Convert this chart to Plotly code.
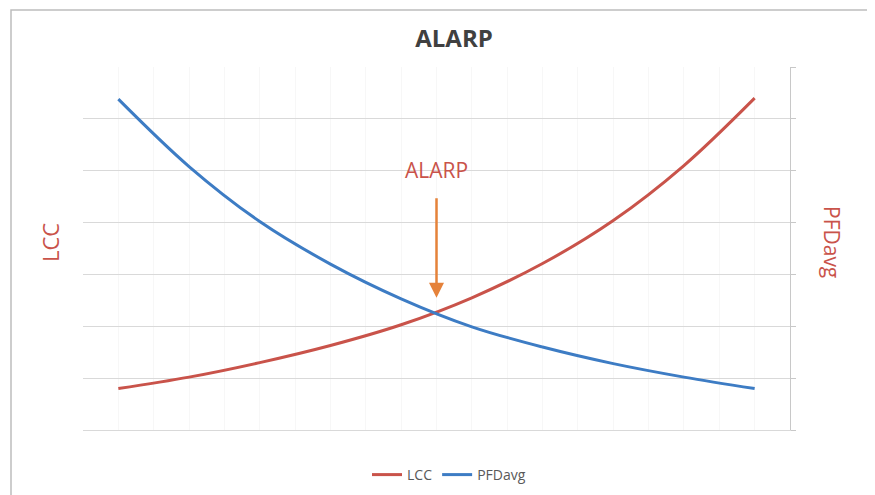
import plotly.graph_objects as go

# ---- data ----
points = [0, 1, 2, 3, 4, 5, 6, 7, 8, 9]
lcc = [0.80, 1.02, 1.30, 1.63, 2.03, 2.55, 3.21, 4.04, 5.10, 6.40]
pfdavg = [6.38, 5.08, 4.02, 3.20, 2.53, 1.99, 1.60, 1.28, 1.02, 0.80]
alarp_x = 4.5
alarp_tip = 2.55
alarp_tail = 4.50
alarp_label_y = 5.02

RED = "#c9534a"
BLUE = "#3d7cc4"
ORANGE = "#e5823a"
GRID = "#d9d9d9"
FONT = "Open Sans"

OFF = 8  # page body margin
W, H = 875 - OFF, 495 - OFF
# plot area in page pixels
L, R, T, B = 83, 790, 67, 430
pw, ph = R - L, B - T


def px(x):
    return (x - L) / pw


def py(y):
    return (B - y) / ph


fig = go.Figure()
fig.add_trace(go.Scatter(x=points, y=lcc, mode="lines", name="LCC",
                         line=dict(color=RED, width=3, shape="spline", smoothing=1.0)))
fig.add_trace(go.Scatter(x=points, y=pfdavg, mode="lines", name="PFDavg",
                         line=dict(color=BLUE, width=3, shape="spline", smoothing=1.0),
                         yaxis="y2"))

fig.update_layout(
    width=W, height=H,
    margin=dict(l=L - OFF, r=W - (R - OFF), t=T - OFF, b=H - (B - OFF)),
    paper_bgcolor="white", plot_bgcolor="white",
    font=dict(family=FONT, color="#595959"),
    title=dict(text="<b>ALARP</b>", x=px(454), xref="paper", xanchor="center",
               y=1 - (39 - OFF) / H, yanchor="middle",
               font=dict(family=FONT, size=24, color="#404040")),
    xaxis=dict(range=[-0.5, 9.5], tick0=0, dtick=0.5, showticklabels=False,
               showgrid=True, gridcolor="#f7f7f7", gridwidth=1,
               zeroline=False, showline=True, linecolor=GRID, ticks=""),
    yaxis=dict(range=[0, 7], dtick=1, showticklabels=False, showgrid=True,
               gridcolor=GRID, gridwidth=1, zeroline=False, showline=False,
               ticks=""),
    yaxis2=dict(range=[0, 7], dtick=1, overlaying="y", side="right",
                showticklabels=False, showgrid=False, zeroline=False,
                showline=True, linecolor="#c8c8c8", ticks="outside",
                ticklen=5, tickcolor="#c8c8c8"),
    legend=dict(orientation="h", xref="paper", x=px(449), xanchor="center",
                yref="container", y=1 - (475 - OFF) / H, yanchor="middle",
                font=dict(family=FONT, size=14, color="#595959"),
                bgcolor="rgba(0,0,0,0)"),
    showlegend=True,
)

# ALARP arrow and label
fig.add_annotation(x=alarp_x, y=alarp_tip, ax=alarp_x, ay=alarp_tail,
                   xref="x", yref="y", axref="x", ayref="y", text="",
                   showarrow=True, arrowhead=2, arrowsize=1.2, arrowwidth=2.5,
                   arrowcolor=ORANGE, standoff=0)
fig.add_annotation(x=alarp_x, y=alarp_label_y, xref="x", yref="y", text="ALARP",
                   showarrow=False, xanchor="center", yanchor="middle",
                   font=dict(family=FONT, size=21, color=RED))

# axis titles
fig.add_annotation(x=px(50), y=py(243), xref="paper", yref="paper", text="LCC",
                   textangle=-90, showarrow=False, xanchor="center", yanchor="middle",
                   font=dict(family=FONT, size=22, color=RED))
fig.add_annotation(x=px(832), y=py(242), xref="paper", yref="paper", text="PFDavg",
                   textangle=90, showarrow=False, xanchor="center", yanchor="middle",
                   font=dict(family=FONT, size=21, color=RED))

# chart border
fig.add_shape(type="rect", xref="paper", yref="paper",
              x0=px(11), x1=px(869), y0=py(520), y1=py(10),
              line=dict(color="#bdbdbd", width=1.5), fillcolor="rgba(0,0,0,0)",
              layer="below")

fig.write_html("out.html")
